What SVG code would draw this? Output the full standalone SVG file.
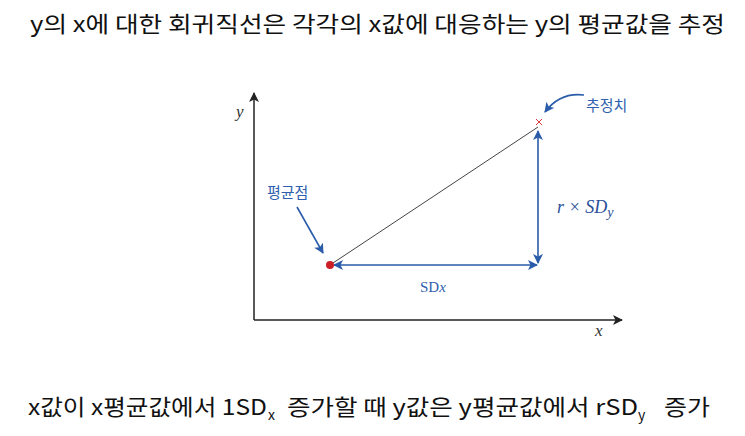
<svg xmlns="http://www.w3.org/2000/svg" width="745" height="436" viewBox="0 0 745 436">
<style>
.kr{font-family:"Noto Sans CJK KR","Noto Sans",sans-serif;fill:#111;font-size:22px}
.sub{font-family:"Noto Sans CJK KR","Noto Sans",sans-serif;fill:#111;font-size:14px}
.lbl{font-family:"Noto Sans CJK KR",sans-serif;fill:#2f5fae;font-size:15px}
.math{font-family:"Liberation Serif",serif;font-style:italic}
.ax{stroke:#222;stroke-width:1.5;fill:none}
.bl{stroke:#2a5caa;stroke-width:1.6;fill:none}
</style>
<defs>
<marker id="ak" viewBox="0 0 10 10" refX="9" refY="5" markerWidth="10" markerHeight="10" markerUnits="userSpaceOnUse" orient="auto-start-reverse"><path d="M0,0 L10,5 L0,10 L2.5,5 z" fill="#222"/></marker>
<marker id="ab" viewBox="0 0 10 10" refX="9" refY="5" markerWidth="10" markerHeight="10" markerUnits="userSpaceOnUse" orient="auto-start-reverse"><path d="M0,0 L10,5 L0,10 L2.5,5 z" fill="#2a5caa"/></marker>
</defs>
<rect width="745" height="436" fill="#fff"/>
<text class="kr" x="30" y="32" textLength="695" lengthAdjust="spacingAndGlyphs">y의 x에 대한 회귀직선은 각각의 x값에 대응하는 y의 평균값을 추정</text>
<g id="axes">
<line class="ax" x1="254" y1="320" x2="254" y2="93" marker-end="url(#ak)"/>
<line class="ax" x1="254" y1="320" x2="622" y2="320" marker-end="url(#ak)"/>
<text class="math" x="236" y="117" font-size="17" fill="#333">y</text>
<text class="math" x="595" y="336" font-size="17" fill="#333">x</text>
</g>
<g id="connectors">
<line x1="330" y1="265" x2="538" y2="127" stroke="#444" stroke-width="1"/>
<line class="bl" x1="334" y1="265" x2="537" y2="265" marker-start="url(#ab)" marker-end="url(#ab)"/>
<line class="bl" x1="538" y1="131" x2="538" y2="263" marker-start="url(#ab)" marker-end="url(#ab)"/>
<line class="bl" x1="297" y1="207" x2="323" y2="253" marker-end="url(#ab)"/>
<path class="bl" d="M584,95 Q560,92 545,112" marker-end="url(#ab)"/>
</g>
<g id="mean">
<circle cx="330" cy="265" r="4" fill="#cc1f26"/>
<text class="lbl" x="267" y="198">평균점</text>
</g>
<g id="estimate">
<path d="M536,119 L542,125 M542,119 L536,125" stroke="#d9393f" stroke-width="1"/>
<text class="lbl" x="586" y="111">추정치</text>
</g>
<g id="sdy">
<text class="math" x="557" y="213" font-size="18" fill="#2a4f9a">r × SD<tspan font-size="14" dy="4">y</tspan></text>
</g>
<g id="sdx">
<text x="420" y="292" font-family="Liberation Serif,serif" font-size="15" fill="#2f5fae">SD<tspan font-style="italic">x</tspan></text>
</g>
<g id="caption">
<text class="kr" x="28" y="415" textLength="239" lengthAdjust="spacingAndGlyphs">x값이 x평균값에서 1SD</text>
<text class="sub" x="268" y="420">x</text>
<text class="kr" x="287" y="415" textLength="351" lengthAdjust="spacingAndGlyphs">증가할 때 y값은 y평균값에서 rSD</text>
<text class="sub" x="638" y="420">y</text>
<text class="kr" x="664" y="415" textLength="46" lengthAdjust="spacingAndGlyphs">증가</text>
</g>
</svg>
